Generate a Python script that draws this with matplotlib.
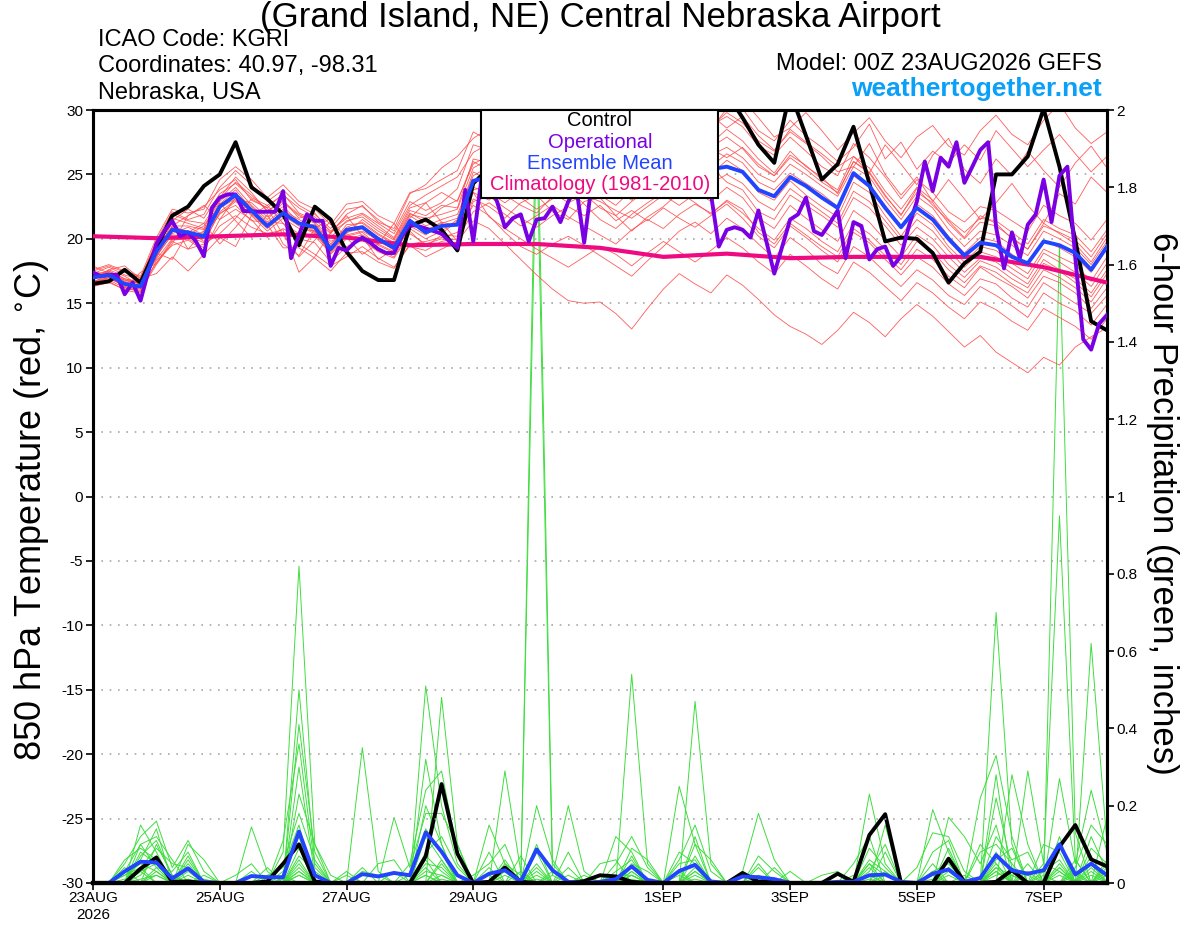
import numpy as np
import matplotlib
matplotlib.use("Agg")
import matplotlib.pyplot as plt
from matplotlib.patches import Rectangle

plt.rcParams['font.family'] = ['Liberation Sans', 'DejaVu Sans']

# ---------------- data ----------------
hours6 = np.arange(65) * 6        # 6-hourly forecast hours 0..384
hours3 = np.arange(129) * 3       # 3-hourly (operational)
hours24 = np.arange(17) * 24      # daily climatology

xtick_hours = [0, 48, 96, 144, 216, 264, 312, 360]
xtick_labels = ['23AUG\n2026', '25AUG', '27AUG', '29AUG', '1SEP', '3SEP', '5SEP', '7SEP']

control_t = [16.5, 16.7, 17.6, 16.6, 19.3, 21.8, 22.5, 24.1, 25.0, 27.5, 24.0, 23.1, 21.9, 19.5, 22.5, 21.5,
             19.0, 17.5, 16.8, 16.8, 21.0, 21.5, 20.7, 19.1, 24.3, 25.5, 26.8, 27.5, 26.9, 28.0, 29.2, 28.4,
             27.6, 28.8, 29.6, 30.4, 29.8, 30.6, 31.4, 31.8, 31.3, 29.4, 27.3, 25.9, 31.4, 28.0, 24.6, 25.8,
             28.7, 24.3, 19.8, 20.1, 20.0, 18.9, 16.6, 18.1, 19.0, 25.0, 25.0, 26.4, 30.1, 25.6, 19.9, 13.6, 12.9]

operational_t = [17.4, 17.1, 17.2, 17.2, 15.7, 16.6, 15.2, 17.5, 19.6, 20.6, 21.4, 20.2, 20.5, 19.8, 18.65, 22.4,
                 23.2, 23.45, 23.45, 22.15, 22.15, 22.1, 22.1, 22.1, 23.7, 18.5, 20.3, 21.9, 21.4, 21.4, 17.9, 19.3,
                 19.1, 19.7, 20.1, 19.7, 19.2, 18.9, 18.9, 20.2, 21.1, 21.0, 20.8, 20.6, 20.4, 19.8, 19.3, 23.8,
                 19.8, 24.5, 24.2, 22.9, 20.9, 21.6, 21.9, 19.8, 21.5, 21.6, 22.5, 21.3, 22.9, 24.0, 19.7, 24.5,
                 25.0, 24.3, 25.6, 24.8, 26.1, 25.4, 24.6, 25.9, 26.4, 25.2, 24.7, 25.8, 26.2, 25.0, 23.5, 19.4,
                 20.7, 20.9, 20.7, 20.1, 22.2, 19.8, 17.3, 19.4, 21.5, 21.9, 23.2, 20.6, 20.3, 21.2, 22.2, 18.5,
                 21.3, 21.0, 18.4, 19.2, 19.4, 17.9, 18.65, 21.0, 22.9, 26.0, 23.7, 26.3, 25.6, 27.5, 24.35, 25.6,
                 26.9, 27.5, 20.9, 17.7, 20.5, 18.5, 21.1, 21.9, 24.6, 21.3, 24.9, 25.6, 18.5, 12.2, 11.4, 13.4, 14.1]

mean_t = [17.0, 17.2, 16.5, 16.3, 19.0, 20.7, 20.5, 20.2, 22.5, 23.4, 22.2, 21.0, 22.0, 21.2, 20.9, 19.2,
          20.7, 20.9, 20.0, 19.3, 21.4, 20.5, 21.0, 21.1, 24.5, 24.8, 25.0, 24.6, 24.4, 24.8, 25.2, 24.9,
          24.5, 24.2, 24.0, 24.4, 24.9, 25.3, 25.5, 25.4, 25.6, 25.2, 23.8, 23.3, 24.8, 24.1, 23.2, 22.4,
          25.1, 24.1, 22.4, 20.9, 22.4, 21.5, 20.0, 18.7, 19.7, 19.5, 18.6, 18.1, 19.8, 19.5, 18.9, 17.6, 19.4]

climatology_t = [20.2, 20.05, 20.2, 20.35, 20.1, 19.5, 19.6, 19.6, 19.3, 18.6, 18.85, 18.5, 18.6, 18.6, 18.6, 17.8, 16.6]

member_t01 = [16.8,17.5,16.9,16.6,18.5,21.0,21.8,22.5,23.8,24.6,23.0,22.4,23.5,22.0,21.5,20.4,21.9,22.6,21.3,20.8,23.5,24.2,25.5,26.4,27.8,28.6,29.4,28.3,27.5,28.8,29.6,30.8,29.5,28.4,29.1,30.2,31.0,30.4,29.2,28.5,30.1,30.8,29.4,27.9,28.6,29.8,28.4,26.9,28.2,29.4,27.6,26.3,27.9,28.8,27.2,26.5,28.4,29.6,28.1,27.3,29.2,30.5,28.6,27.4,28.3]
member_t02 = [16.4,17.6,17.9,16.9,17.3,18.6,17.5,18.8,20.1,19.4,21.8,22.6,21.2,19.6,18.8,17.9,18.6,19.4,18.5,17.8,19.5,18.6,19.2,19.8,21.4,20.8,19.6,18.4,17.2,16.1,15.2,15.0,15.1,14.2,13.0,14.6,16.1,17.3,16.5,15.8,17.2,16.4,15.3,14.1,13.2,12.6,11.8,12.9,14.3,13.5,12.4,13.8,14.9,14.0,12.8,11.6,12.5,11.2,10.4,9.6,10.8,10.2,11.6,12.4,13.1]
member_t03 = [16.5,17.0,16.6,16.9,19.5,21.2,20.3,21.0,22.9,24.0,22.6,21.5,22.8,21.8,21.2,19.8,20.4,21.5,20.6,19.9,22.0,21.3,22.4,23.0,25.8,26.5,27.2,26.1,25.4,26.8,27.5,26.6,25.9,25.0,26.2,27.4,26.8,27.9,28.6,27.4,28.5,27.6,26.2,25.1,26.8,25.6,24.8,23.5,26.0,25.2,23.4,21.8,23.9,22.6,21.4,20.1,21.8,21.2,20.0,19.2,21.2,20.4,19.6,18.2,20.1]
member_t04 = [17.4,17.3,16.2,16.1,18.8,21.3,19.2,20.6,22.8,21.4,20.1,21.9,19.6,18.7,20.8,21.6,19.1,20.1,19.2,18.6,20.6,19.4,20.3,20.2,23.1,22.5,21.6,22.8,23.4,22.1,21.5,22.9,23.2,21.8,20.6,21.7,22.5,23.6,22.8,21.9,23.0,22.3,20.5,19.6,21.2,20.3,19.4,18.6,20.8,19.9,18.7,17.6,19.2,18.4,17.1,16.2,17.8,17.0,16.3,15.4,17.1,16.6,15.8,14.6,16.2]
member_t05 = [16.9,17.6,17.1,16.4,19.8,21.6,21.2,20.8,23.2,24.8,23.6,22.1,23.0,21.6,22.0,20.5,21.3,21.9,21.0,20.1,22.4,22.8,23.6,22.9,26.0,25.3,26.4,27.3,26.5,25.8,26.9,27.8,27.0,26.1,27.3,26.4,27.5,28.3,27.6,28.8,29.5,28.7,27.2,26.5,27.9,26.8,25.6,24.9,27.4,26.3,24.8,23.1,24.6,23.6,22.1,21.3,22.5,22.2,21.4,20.6,22.6,21.8,21.2,19.9,21.5]
member_t06 = [16.6,16.9,16.4,16.7,18.4,20.0,20.6,19.8,22.0,22.6,21.4,21.3,21.2,20.4,20.2,18.9,20.2,20.5,19.5,18.9,20.8,20.0,20.6,21.5,23.8,24.1,23.4,22.6,22.0,23.3,24.2,23.5,22.4,21.8,22.9,23.8,24.6,23.9,24.8,25.6,24.4,23.8,22.1,21.5,23.4,22.6,21.8,20.9,23.2,22.4,21.0,19.5,20.9,20.0,18.6,17.4,18.5,18.2,17.3,16.5,18.4,17.6,16.9,15.8,17.6]
member_t07 = [17.1,17.4,16.7,16.3,19.2,20.9,20.0,20.6,22.4,23.1,22.8,21.7,22.5,21.3,20.6,19.5,21.1,21.2,20.3,19.6,21.8,21.0,21.5,21.9,24.9,25.6,24.8,25.7,26.4,25.9,25.1,24.6,25.5,26.3,25.4,24.8,25.6,26.7,27.3,26.5,27.1,26.3,25.0,24.4,25.8,25.0,24.1,23.3,25.6,24.8,23.0,21.5,23.3,22.4,20.7,19.4,20.6,20.3,19.5,18.7,20.6,20.0,19.3,18.0,19.8]
member_t08 = [16.4,16.7,16.0,15.8,18.9,18.4,20.5,21.2,19.6,20.9,22.4,21.1,19.3,19.3,18.5,17.5,18.9,19.0,18.2,17.7,19.6,19.8,20.1,20.5,22.6,21.8,20.5,19.4,18.8,19.6,20.2,19.5,18.7,17.9,17.1,18.3,19.4,20.6,21.3,20.4,21.6,20.8,19.6,18.5,20.1,19.2,18.0,17.3,19.4,18.6,17.4,16.3,17.6,16.8,15.6,14.9,16.3,15.6,14.8,13.9,15.8,15.0,14.4,13.3,14.9]
member_t09 = [17.3,17.8,17.2,16.8,19.9,22.1,21.5,21.9,24.0,25.3,24.2,22.9,23.8,22.6,21.9,20.8,22.3,22.5,21.5,20.6,22.9,22.2,22.8,23.9,27.3,26.9,25.8,26.7,27.8,28.9,28.1,27.2,28.3,29.2,28.5,27.6,28.9,29.8,29.1,30.2,31.0,30.1,28.4,27.6,29.2,28.0,27.1,26.0,27.1,28.9,26.2,27.5,25.4,26.8,25.9,27.3,26.1,28.4,27.0,25.6,26.9,28.1,26.6,25.2,26.4]
member_t10 = [16.7,17.1,16.5,16.2,18.6,20.4,20.9,20.3,21.9,22.9,21.9,20.8,21.8,21.0,20.4,19.0,20.3,20.6,19.9,19.1,21.0,20.3,21.1,21.2,24.3,24.9,25.6,24.5,23.6,24.5,25.4,24.3,23.4,22.6,23.8,24.9,25.9,25.1,24.2,25.0,26.1,25.3,23.6,23.0,24.5,23.4,22.5,21.7,24.4,23.6,21.8,20.2,22.0,21.1,19.4,18.2,19.4,19.1,18.1,17.3,19.2,18.6,18.0,16.7,18.6]
member_t11 = [17.0,17.2,16.8,16.5,19.3,20.6,20.4,20.1,22.7,23.8,22.3,21.0,22.2,21.5,20.8,19.3,20.8,21.0,20.1,19.4,21.5,20.7,21.2,21.6,25.2,24.5,23.6,24.2,25.0,24.2,23.5,24.1,24.8,23.9,23.0,24.1,25.0,25.8,26.4,25.6,26.6,25.9,24.4,23.8,25.1,24.3,23.5,22.5,24.9,24.0,22.6,21.0,22.7,21.8,20.2,18.9,20.1,19.8,18.8,18.0,19.9,19.3,18.6,17.4,19.2]
member_t12 = [16.3,16.6,16.1,16.0,18.0,19.8,19.2,19.6,20.4,21.6,23.1,22.4,20.3,18.6,19.9,21.4,20.1,18.8,19.6,21.2,19.4,19.1,19.8,20.0,22.1,22.8,21.9,21.0,21.8,22.6,21.7,21.0,20.3,19.6,20.7,21.5,20.8,21.9,22.7,22.0,22.9,22.0,20.8,19.9,21.6,20.8,19.8,19.0,21.2,20.4,19.2,18.0,19.8,19.0,17.6,16.6,17.9,17.4,16.5,15.8,17.6,17.0,16.2,15.1,16.9]
member_t13 = [17.5,17.9,17.4,17.0,19.7,21.4,22.3,21.6,23.5,24.3,23.2,22.6,23.4,22.4,21.7,20.6,21.6,22.0,21.2,20.4,22.6,23.4,24.1,24.8,26.7,27.4,28.3,29.2,28.6,27.6,28.6,29.4,28.3,27.5,28.4,29.1,28.2,27.4,28.5,29.6,28.6,29.5,28.0,26.9,28.3,27.4,26.4,25.2,25.6,27.4,25.0,23.4,24.8,22.9,24.6,23.1,21.5,22.8,24.3,22.6,21.2,23.5,22.7,24.8,23.6]
member_t14 = [16.6,17.0,16.3,16.1,18.7,20.3,20.2,19.7,22.1,23.0,21.8,20.6,21.6,20.8,20.6,18.8,20.0,20.3,19.6,19.0,21.1,20.9,20.4,21.4,23.6,23.0,24.1,23.2,22.3,23.1,23.8,22.7,21.5,20.8,21.9,22.8,23.6,24.5,23.7,22.9,24.0,23.2,21.6,20.8,22.6,21.6,20.7,19.8,22.2,21.3,19.9,18.6,20.3,19.5,18.0,17.0,18.3,17.8,16.9,16.2,18.1,17.5,16.6,15.5,17.3]
member_t15 = [17.2,17.5,16.9,16.6,19.1,21.0,21.0,20.7,22.6,23.5,22.5,21.3,22.3,21.1,21.1,19.6,20.9,21.3,20.4,19.7,21.9,21.6,21.9,22.3,25.5,26.2,25.4,24.6,25.3,26.2,25.6,24.9,24.0,24.8,25.9,25.2,24.3,25.4,26.1,27.0,26.3,27.1,25.8,24.9,26.5,25.7,24.6,23.8,26.4,25.5,23.7,22.3,24.0,23.0,21.5,20.5,21.6,21.4,20.5,19.6,21.5,20.8,20.3,19.0,20.7]
member_t16 = [17.9,17.3,16.2,17.4,18.1,19.6,21.8,22.6,21.5,23.2,22.0,20.9,21.9,21.2,20.5,19.1,20.5,20.8,19.8,19.2,21.3,20.6,21.3,21.0,24.0,23.6,22.8,23.7,24.4,23.6,22.8,23.4,22.9,22.2,21.6,22.5,23.4,22.6,23.5,24.3,25.0,24.3,22.9,22.2,23.9,23.0,22.1,21.2,23.7,22.9,21.4,19.9,21.5,20.6,19.1,17.8,19.0,18.6,17.7,16.9,18.9,18.2,17.4,16.3,18.1]
member_t17 = [16.9,17.4,16.8,16.6,19.6,21.9,21.4,21.2,23.1,24.4,23.4,22.2,22.9,21.9,21.3,20.1,21.4,21.7,20.8,20.0,22.2,21.8,22.6,22.4,26.2,25.9,26.8,25.9,25.0,25.6,26.3,25.7,26.6,27.4,26.7,25.8,26.5,27.2,26.3,27.1,27.9,27.0,25.6,24.9,26.3,25.4,24.4,23.6,26.0,25.1,23.3,21.9,23.6,22.8,21.2,20.0,21.3,21.0,20.1,19.2,21.0,20.5,19.9,18.6,20.4]
member_t18 = [16.5,16.8,16.2,15.9,18.3,19.5,19.9,19.1,21.5,22.3,21.5,20.1,20.8,20.0,19.7,18.2,19.4,19.9,19.0,18.5,20.4,19.6,20.0,19.6,22.9,23.3,22.4,21.6,20.9,21.8,22.5,21.8,22.6,21.4,22.2,21.4,22.4,21.6,20.9,21.8,22.7,21.6,20.2,19.3,21.0,20.1,19.1,18.2,20.5,19.7,18.4,17.2,18.6,17.8,16.5,15.6,16.9,16.5,15.4,14.7,16.6,15.8,15.0,14.2,15.6]
member_t19 = [17.6,18.0,17.5,17.1,20.1,22.3,22.0,22.3,24.6,25.6,24.6,23.2,24.2,22.9,22.3,21.1,22.7,22.9,21.8,21.2,23.6,23.9,24.6,25.3,28.3,27.6,26.9,27.8,28.9,27.9,27.1,28.0,27.2,26.4,27.6,28.3,27.4,28.6,29.4,28.7,29.8,29.0,27.6,26.8,28.5,27.5,26.6,25.6,26.4,25.1,27.3,25.8,24.2,26.5,27.8,25.4,24.3,26.2,24.9,26.8,25.3,24.0,25.9,27.2,25.5]
member_t20 = [16.7,17.0,16.4,16.3,18.1,19.9,20.0,19.3,21.0,21.8,20.9,20.4,20.7,17.4,18.6,20.5,21.8,20.2,18.4,19.2,21.6,22.8,21.3,19.8,23.6,21.7,20.8,20.0,19.2,18.5,17.8,18.6,19.4,18.8,17.9,18.9,19.8,19.0,18.2,19.1,20.1,19.3,18.2,17.3,18.8,17.9,16.9,16.1,18.2,17.4,16.3,15.2,16.6,15.8,14.7,13.8,15.1,14.5,13.6,12.9,14.6,13.9,13.2,12.2,13.8]

members_t = [member_t01, member_t02, member_t03, member_t04, member_t05, member_t06, member_t07,
             member_t08, member_t09, member_t10, member_t11, member_t12, member_t13, member_t14,
             member_t15, member_t16, member_t17, member_t18, member_t19, member_t20]

control_p = [0, 0, 0, 0.037, 0.066, 0.003, 0.004, 0, 0, 0, 0, 0.004, 0.05, 0.1, 0.004, 0,
             0, 0, 0, 0, 0, 0.069, 0.256, 0.076, 0, 0.003, 0.04, 0.003, 0, 0, 0, 0.005,
             0.02, 0.017, 0.003, 0, 0, 0, 0, 0, 0, 0.026, 0.003, 0.007, 0, 0, 0, 0.024,
             0.003, 0.124, 0.178, 0, 0, 0, 0.063, 0.003, 0, 0.003, 0.033, 0, 0, 0.094, 0.15, 0.061, 0.043]

mean_p = [0, 0, 0.03, 0.055, 0.053, 0.012, 0.038, 0.003, 0, 0, 0.018, 0.015, 0.015, 0.133, 0.02, 0,
          0, 0.023, 0.017, 0.026, 0.02, 0.131, 0.081, 0.02, 0, 0.024, 0.033, 0.004, 0.087, 0.033, 0.003, 0,
          0.003, 0.01, 0.043, 0.008, 0, 0.031, 0.047, 0.004, 0, 0.017, 0.015, 0.01, 0, 0, 0, 0.003,
          0.003, 0.02, 0.022, 0.003, 0, 0.024, 0.035, 0.003, 0.013, 0.072, 0.033, 0.024, 0.033, 0.1, 0.022, 0.05, 0.02]

# ensemble member precipitation: {6-hour step index: inches}, all other steps are 0
member_p_nonzero = [
    {2:0.05,3:0.12,4:0.16,5:0.04,6:0.11,7:0.03,12:0.08,13:0.82,14:0.1,21:0.51,22:0.2,23:0.05,28:2.1,29:0.05,34:0.54,35:0.05,49:0.05,57:0.70,58:0.1,61:0.1,63:0.62,64:0.1},
    {3:0.15,4:0.08,6:0.07,10:0.145,11:0.03,13:0.5,14:0.05,22:0.48,23:0.1,28:1.95,29:0.02,30:0.2,31:0.03,38:0.47,39:0.05,50:0.15,56:0.22,57:0.33,58:0.12,61:1.65,62:0.13,64:0.17},
    {2:0.03,3:0.1,4:0.12,5:0.06,9:0.02,10:0.05,13:0.41,14:0.08,17:0.35,18:0.03,21:0.32,22:0.1,26:0.29,27:0.03,33:0.05,34:0.12,35:0.04,37:0.25,38:0.1,49:0.23,50:0.05,58:0.28,59:0.1,61:0.27,62:0.05,63:0.24,64:0.08},
    {3:0.08,4:0.05,6:0.1,7:0.06,12:0.11,13:0.36,14:0.04,20:0.05,21:0.24,22:0.29,23:0.08,25:0.15,26:0.05,28:0.2,29:0.06,32:0.02,34:0.09,35:0.06,41:0.03,42:0.18,43:0.06,53:0.19,54:0.08,57:0.28,59:0.29,60:0.05,61:0.95,62:0.06,64:0.05},
    {2:0.04,4:0.1,5:0.02,11:0.04,13:0.30,14:0.02,16:0.02,19:0.17,20:0.04,21:0.18,22:0.18,23:0.1,27:0.07,30:0.08,33:0.12,34:0.08,37:0.06,38:0.15,39:0.03,42:0.05,49:0.05,50:0.02,54:0.17,55:0.12,56:0.05,57:0.15,60:0.1,61:0.08,63:0.05},
    {3:0.06,4:0.14,6:0.05,13:0.23,14:0.1,15:0.02,18:0.05,19:0.06,21:0.12,22:0.06,24:0.02,25:0.05,26:0.1,28:0.1,34:0.07,38:0.1,39:0.06,44:0.03,48:0.05,49:0.12,52:0.04,53:0.13,54:0.12,55:0.03,57:0.12,58:0.06,59:0.08,61:0.05,63:0.09,64:0.05},
    {2:0.02,3:0.04,4:0.09,5:0.05,6:0.04,12:0.03,13:0.12,17:0.04,21:0.08,22:0.12,23:0.04,26:0.05,27:0.02,30:0.04,33:0.03,34:0.06,37:0.08,38:0.05,42:0.07,43:0.03,49:0.09,50:0.04,53:0.08,54:0.11,57:0.06,58:0.09,60:0.05,61:0.03,63:0.12,64:0.03},
    {3:0.1,4:0.04,5:0.03,6:0.08,10:0.03,13:0.07,14:0.03,21:0.05,22:0.04,25:0.08,28:0.05,32:0.05,33:0.06,38:0.07,42:0.02,46:0.02,47:0.03,50:0.08,54:0.06,56:0.1,57:0.05,59:0.05,62:0.06,64:0.06},
    {2:0.06,3:0.09,4:0.06,6:0.03,12:0.05,13:0.18,14:0.06,17:0.03,18:0.02,20:0.02,21:0.14,22:0.08,26:0.03,29:0.03,34:0.03,37:0.05,38:0.06,43:0.04,49:0.06,50:0.03,54:0.09,57:0.22,58:0.04,61:0.12,63:0.04},
    {3:0.07,4:0.11,5:0.02,7:0.02,11:0.02,12:0.04,13:0.15,16:0.03,21:0.2,22:0.1,25:0.04,28:0.08,31:0.02,34:0.05,35:0.03,38:0.12,41:0.02,49:0.03,50:0.1,53:0.03,54:0.05,56:0.08,57:0.1,58:0.05,62:0.04,63:0.15,64:0.1},
    {3:0.03,4:0.05,6:0.06,13:0.05,19:0.03,22:0.05,26:0.06,28:0.04,33:0.02,34:0.02,38:0.03,42:0.04,48:0.02,53:0.05,57:0.04,58:0.02,60:0.03,61:0.06,64:0.02},
    {2:0.02,3:0.05,4:0.03,6:0.02,13:0.09,14:0.02,21:0.07,22:0.03,25:0.02,28:0.03,34:0.04,37:0.03,49:0.04,54:0.03,57:0.08,59:0.03,61:0.04,63:0.07},
    {3:0.02,4:0.07,13:0.03,21:0.03,22:0.02,27:0.03,33:0.01,38:0.02,50:0.02,53:0.02,57:0.02,58:0.03,61:0.02,64:0.04},
    {4:0.03,6:0.01,13:0.02,21:0.02,30:0.02,34:0.01,38:0.01,49:0.02,54:0.02,57:0.05,62:0.02},
    {3:0.01,4:0.02,12:0.02,22:0.01,26:0.02,34:0.03,49:0.01,57:0.03,60:0.02,63:0.03},
    {2:0.01,13:0.04,21:0.04,28:0.02,38:0.04,53:0.01,58:0.02,61:0.03},
    {3:0.04,6:0.04,13:0.06,22:0.06,26:0.04,34:0.02,37:0.02,50:0.03,55:0.02,57:0.04,63:0.02},
    {4:0.04,13:0.03,21:0.06,29:0.02,38:0.03,49:0.02,59:0.02,62:0.03},
    {3:0.03,7:0.01,13:0.02,21:0.02,34:0.02,54:0.04,57:0.03,64:0.03},
    {4:0.02,12:0.01,22:0.02,28:0.01,42:0.01,53:0.03,61:0.04},
]

left_ticks = [30, 25, 20, 15, 10, 5, 0, -5, -10, -15, -20, -25, -30]
right_ticks = [0, 0.2, 0.4, 0.6, 0.8, 1.0, 1.2, 1.4, 1.6, 1.8, 2.0]
right_labels = ['0', '0.2', '0.4', '0.6', '0.8', '1', '1.2', '1.4', '1.6', '1.8', '2']

# ---------------- colours ----------------
C_RED = '#ff4a4a'
C_GREEN = '#3ede3e'
C_PURPLE = '#7a00e4'
C_BLUE = '#2244ff'
C_PINK = '#ee0a80'
C_WEB = '#0aa0f8'

# ---------------- figure ----------------
W, H = 1200, 927
fig = plt.figure(figsize=(W / 100, H / 100), dpi=100)
L, R, T, B = 93, 1107, 110, 883
ax = fig.add_axes([L / W, 1 - B / H, (R - L) / W, (B - T) / H])
ax2 = ax.twinx()
ax.set_zorder(2)
ax2.set_zorder(1)
ax.patch.set_visible(False)

# precipitation (right axis)
for d in member_p_nonzero:
    vals = np.zeros(len(hours6))
    for k, v in d.items():
        vals[k] = v
    ax2.plot(hours6, vals, color=C_GREEN, lw=0.7, zorder=2)
ax2.plot(hours6, control_p, color='black', lw=2.8, zorder=4)
ax2.plot(hours6, mean_p, color=C_BLUE, lw=2.8, zorder=5)
ax2.set_ylim(0, 2)
ax2.set_yticks(right_ticks)
ax2.set_yticklabels(right_labels)

# temperature (left axis)
for m in members_t:
    ax.plot(hours6, m, color=C_RED, lw=0.6, alpha=0.9, zorder=2)
ax.plot(hours24, climatology_t, color=C_PINK, lw=3, zorder=5)
ax.plot(hours6, control_t, color='black', lw=2.8, zorder=6)
ax.plot(hours3, operational_t, color=C_PURPLE, lw=2.8, zorder=7)
ax.plot(hours6, mean_t, color=C_BLUE, lw=2.8, zorder=8)

ax.set_xlim(0, 384)
ax.set_ylim(-30, 30)
ax.set_yticks(left_ticks)
ax.set_yticklabels([str(v) for v in left_ticks])
ax.set_xticks(xtick_hours)
ax.set_xticklabels(xtick_labels)
for v in left_ticks[1:-1]:
    ax.axhline(v, color='#a8a8a8', lw=1.2, ls=(0, (1, 4)), zorder=1)

for lab in ax.get_yticklabels() + ax.get_xticklabels() + ax2.get_yticklabels():
    lab.set_fontsize(11)
ax.tick_params(axis='y', direction='out', length=5, width=1.2, pad=2)
ax.tick_params(axis='x', direction='out', length=5, width=1.2, pad=1)
ax2.tick_params(axis='y', direction='out', length=5, width=1.2, pad=2)
for a in (ax, ax2):
    for s in a.spines.values():
        s.set_linewidth(2.2)
    a.spines['bottom'].set_linewidth(3)

# legend box
lx0, lx1 = (481 - L) / (R - L), (718 - L) / (R - L)
ly0 = 1 - (198 - T) / (B - T)
ax.add_patch(Rectangle((lx0, ly0), lx1 - lx0, 1 - ly0, transform=ax.transAxes,
                       facecolor='white', edgecolor='black', lw=1.5, zorder=20, clip_on=False))
leg_items = [('Control', 'black'), ('Operational', C_PURPLE),
             ('Ensemble Mean', C_BLUE), ('Climatology (1981-2010)', C_PINK)]
for k, (txt, col) in enumerate(leg_items):
    ypx = 121 + k * 21.3
    ax.text((600 - L) / (R - L), 1 - (ypx - T) / (B - T), txt, color=col, fontsize=14.5,
            ha='center', va='center', transform=ax.transAxes, zorder=21)

# header texts
def fy(ypx):
    return 1 - ypx / H

fig.text(600 / W, fy(18), '(Grand Island, NE) Central Nebraska Airport', ha='center', va='center', fontsize=25)
fig.text(98 / W, fy(40), 'ICAO Code: KGRI', ha='left', va='center', fontsize=17)
fig.text(98 / W, fy(66), 'Coordinates: 40.97, -98.31', ha='left', va='center', fontsize=17)
fig.text(98 / W, fy(93), 'Nebraska, USA', ha='left', va='center', fontsize=17)
fig.text(1102 / W, fy(64), 'Model: 00Z 23AUG2026 GEFS', ha='right', va='center', fontsize=17)
fig.text(1102 / W, fy(89), 'weathertogether.net', ha='right', va='center', fontsize=19,
         fontweight='bold', color=C_WEB)
fig.text(32 / W, fy(511), '850 hPa Temperature (red, $^{\\circ}$C)', rotation=90, ha='center', va='center', fontsize=26)
fig.text(1163 / W, fy(503), '6-hour Precipitation (green, inches)', rotation=270, ha='center', va='center', fontsize=25)

fig.savefig('out.png', dpi=100)
